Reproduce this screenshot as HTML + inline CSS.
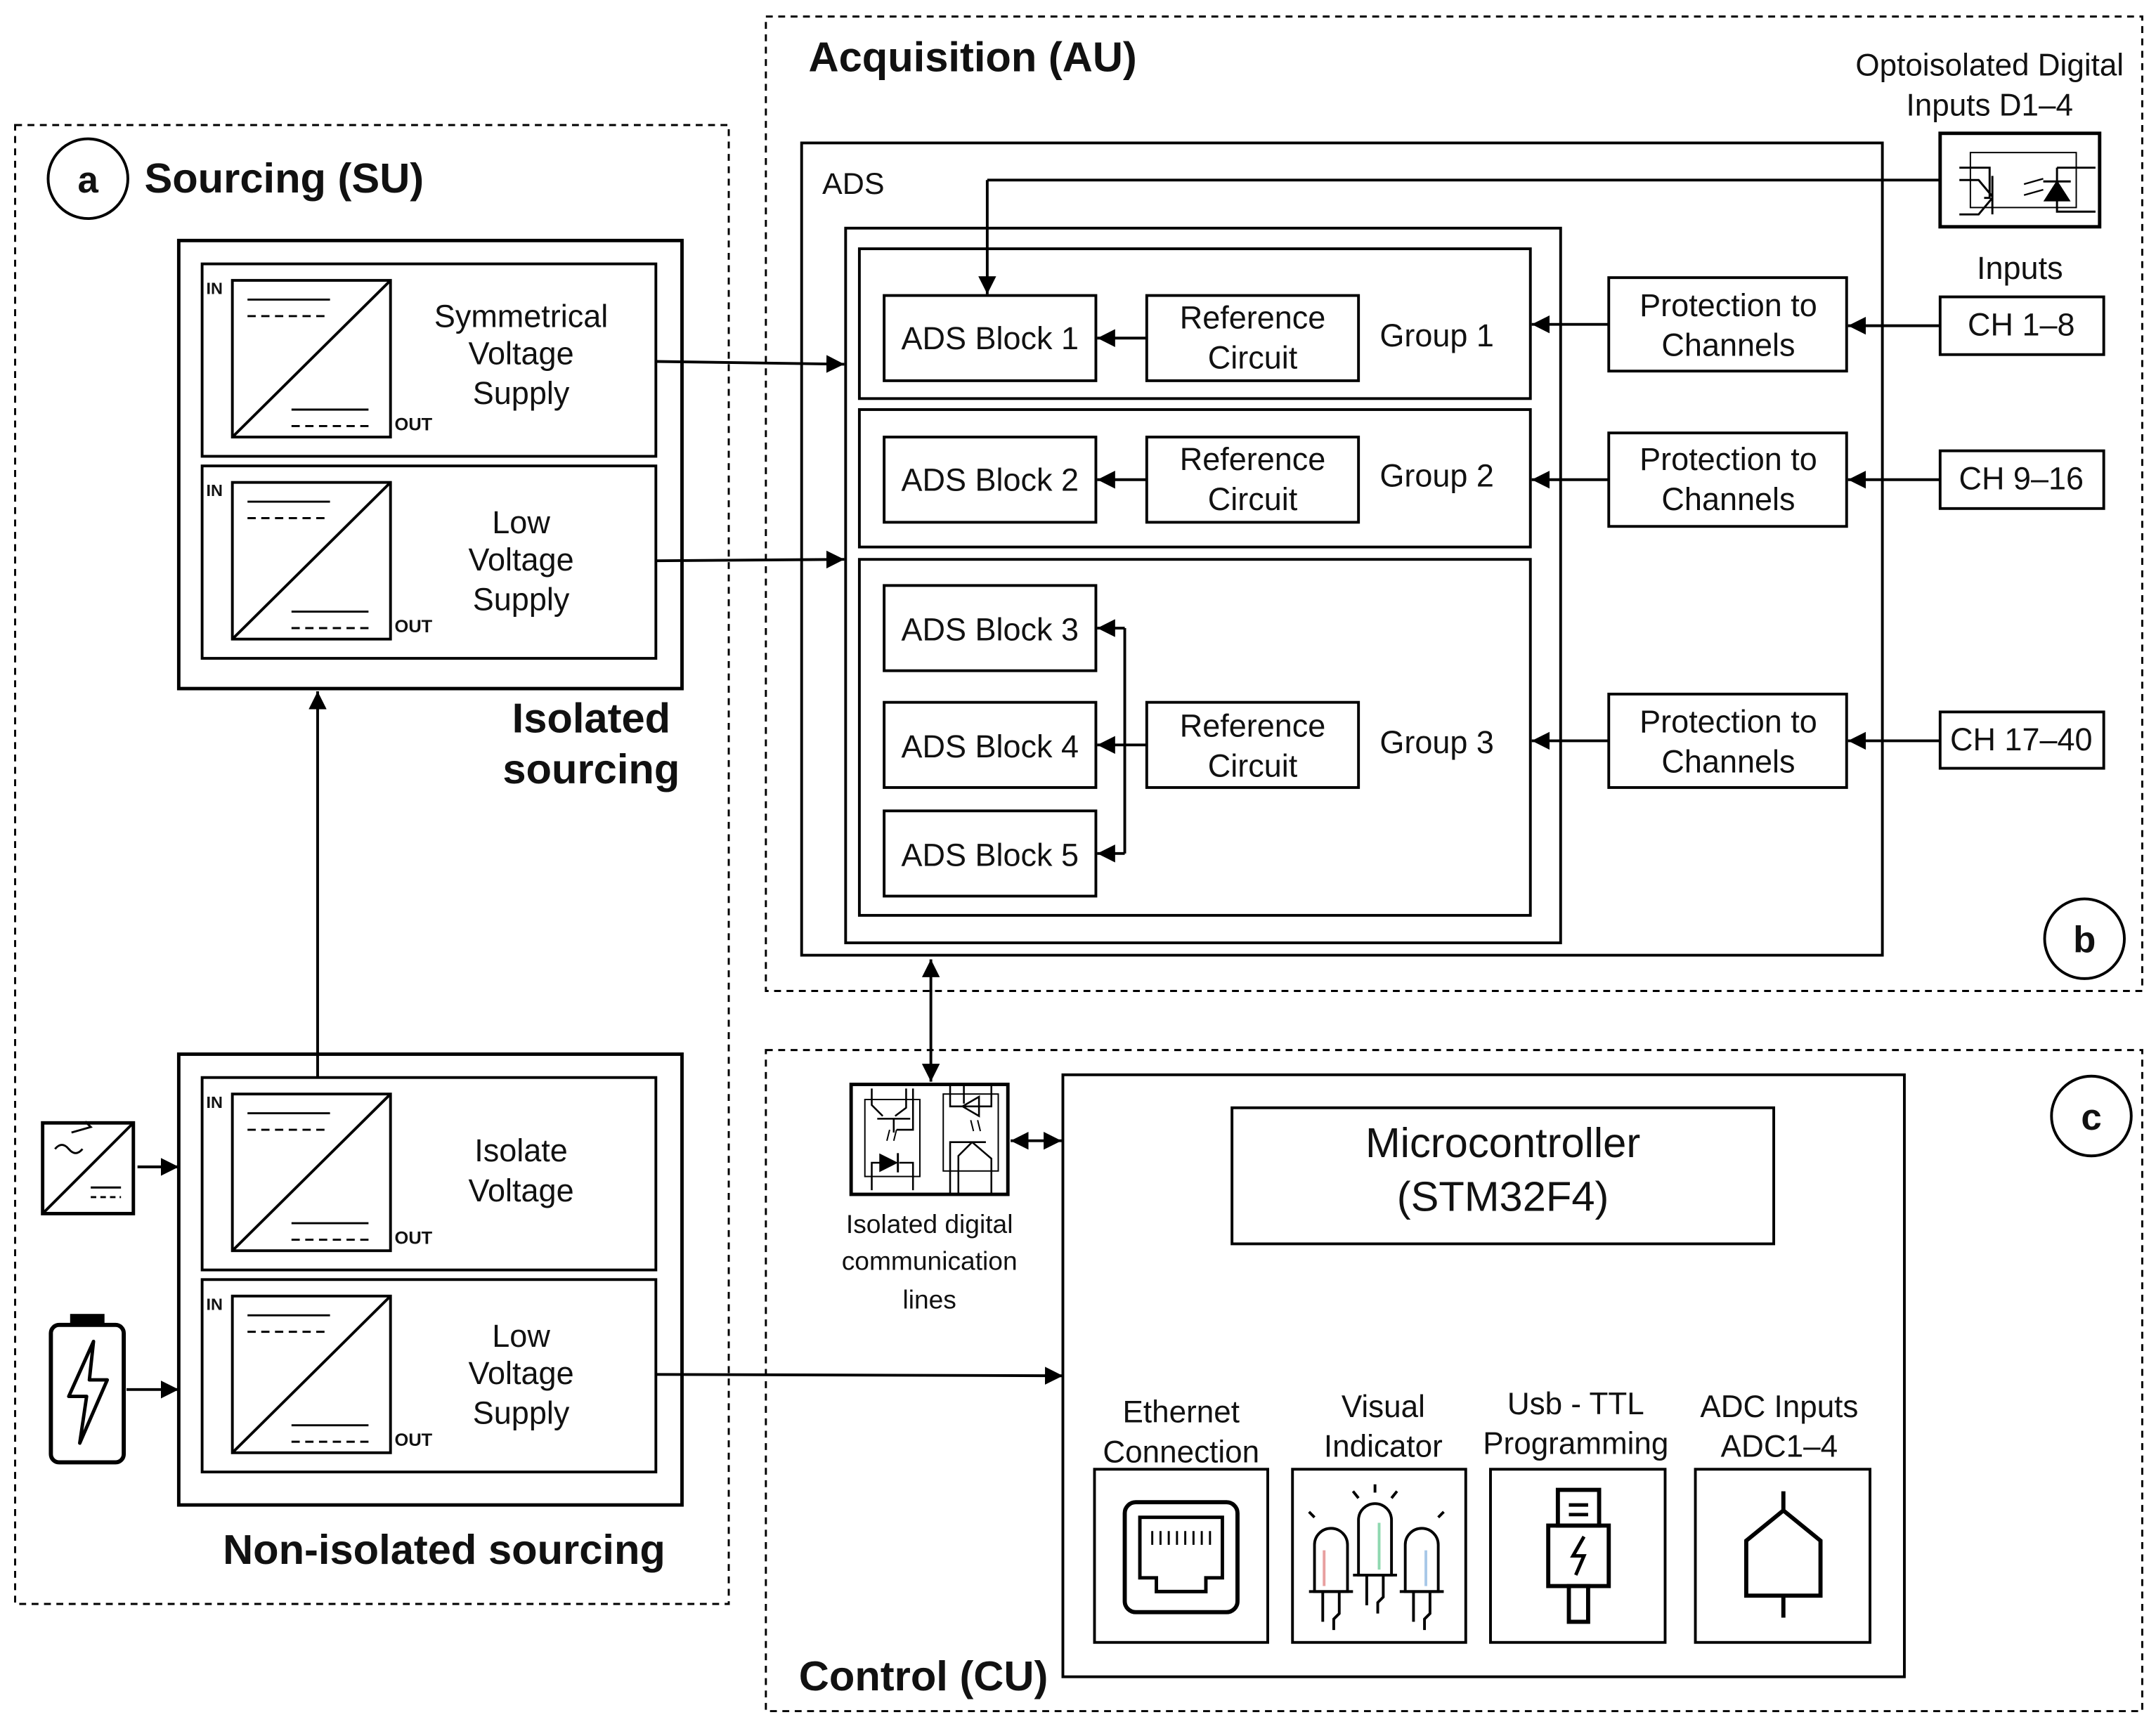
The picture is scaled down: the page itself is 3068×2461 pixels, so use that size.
<!DOCTYPE html>
<html><head><meta charset="utf-8"><style>
html,body{margin:0;padding:0;background:#fff;}
svg{display:block;}
text{font-family:"Liberation Sans",sans-serif;fill:#111;}
.b{font-weight:bold;}
</style></head><body>
<svg width="3068" height="2461" viewBox="0 0 1568 1258" preserveAspectRatio="none" xmlns="http://www.w3.org/2000/svg">
<defs>
<marker id="ar2" viewBox="0 0 10 10" refX="10" refY="5" markerWidth="13" markerHeight="13" orient="auto-start-reverse" markerUnits="userSpaceOnUse"><path d="M0,0 L10,5 L0,10 Z" fill="#000"/></marker>
<g id="conv">
<rect x="0" y="0" width="330" height="140" fill="none" stroke="#000" stroke-width="2"/>
<rect x="22" y="12" width="115" height="114" fill="none" stroke="#000" stroke-width="2"/>
<line x1="22" y1="126" x2="137" y2="12" stroke="#000" stroke-width="2"/>
<line x1="33" y1="26" x2="93" y2="26" stroke="#000" stroke-width="1.5"/>
<line x1="33" y1="38" x2="93" y2="38" stroke="#000" stroke-width="1.5" stroke-dasharray="6,4"/>
<line x1="65" y1="106" x2="121" y2="106" stroke="#000" stroke-width="1.5"/>
<line x1="65" y1="118" x2="121" y2="118" stroke="#000" stroke-width="1.5" stroke-dasharray="6,4"/>
<text x="3" y="22" font-size="12" class="b">IN</text>
<text x="140" y="121" font-size="13" class="b">OUT</text>
</g>
</defs>
<g fill="none" stroke="#000" stroke-width="1.5" stroke-dasharray="5,4">
<rect x="11" y="91" width="519" height="1076"/>
<rect x="557" y="12" width="1001" height="709"/>
<rect x="557" y="764" width="1001" height="481"/>
</g>
<!-- Sourcing -->
<circle cx="64" cy="130" r="29" fill="none" stroke="#000" stroke-width="2"/>
<text x="64" y="140" font-size="27" class="b" text-anchor="middle">a</text>
<text x="105" y="140" font-size="30.5" class="b">Sourcing (SU)</text>
<rect x="130" y="175" width="366" height="326" fill="none" stroke="#000" stroke-width="2.5"/>
<use href="#conv" x="147" y="192"/>
<use href="#conv" x="147" y="339"/>
<g font-size="23" text-anchor="middle">
<text x="379" y="238">Symmetrical</text><text x="379" y="265">Voltage</text><text x="379" y="294">Supply</text>
<text x="379" y="388">Low</text><text x="379" y="415">Voltage</text><text x="379" y="444">Supply</text>
<text x="379" y="845">Isolate</text><text x="379" y="874">Voltage</text>
<text x="379" y="980">Low</text><text x="379" y="1007">Voltage</text><text x="379" y="1036">Supply</text>
</g>
<text x="430" y="533" font-size="30.5" class="b" text-anchor="middle">Isolated</text>
<text x="430" y="570" font-size="30.5" class="b" text-anchor="middle">sourcing</text>
<rect x="130" y="767" width="366" height="328" fill="none" stroke="#000" stroke-width="2.5"/>
<use href="#conv" x="147" y="784"/>
<use href="#conv" x="147" y="931"/>
<text x="323" y="1138" font-size="30.5" class="b" text-anchor="middle">Non-isolated sourcing</text>
<g stroke="#000" stroke-width="2" fill="none">
<line x1="231" y1="784" x2="231" y2="503" marker-end="url(#ar2)"/>
<line x1="477" y1="263" x2="614" y2="265" marker-end="url(#ar2)"/>
<line x1="477" y1="408" x2="614" y2="407" marker-end="url(#ar2)"/>
<line x1="477" y1="1000" x2="773" y2="1001" marker-end="url(#ar2)"/>
<line x1="100" y1="849" x2="130" y2="849" marker-end="url(#ar2)"/>
<line x1="92" y1="1011" x2="130" y2="1011" marker-end="url(#ar2)"/>
<rect x="31" y="817" width="66" height="66" stroke-width="2.5"/>
<line x1="31" y1="883" x2="97" y2="817" stroke-width="2"/>
<path d="M40,836 q5,-6 10,0 t10,0" stroke-width="1.5"/>
<path d="M52,824 l14,-4 -4,-4" stroke-width="1.5"/>
<line x1="66" y1="864" x2="88" y2="864" stroke-width="1.5"/>
<line x1="66" y1="871" x2="88" y2="871" stroke-width="1.5" stroke-dasharray="4,3"/>
<rect x="37" y="964" width="53" height="100" rx="6" stroke-width="3"/>
<rect x="52" y="957" width="23" height="7" fill="#000"/>
<path d="M68,976 L50,1016 L63,1016 L58,1050 L78,1004 L65,1004 Z" stroke-width="2.5" stroke-linejoin="round"/>
</g>
<!-- Acquisition -->
<text x="588" y="52" font-size="30.5" class="b">Acquisition (AU)</text>
<text x="1447" y="55" font-size="22.5" text-anchor="middle">Optoisolated Digital</text>
<text x="1447" y="84" font-size="22.5" text-anchor="middle">Inputs D1–4</text>
<g fill="none" stroke="#000" stroke-width="2">
<rect x="583" y="104" width="786" height="591"/>
<rect x="615" y="166" width="520" height="520"/>
<rect x="625" y="181" width="488" height="109"/>
<rect x="625" y="298" width="488" height="100"/>
<rect x="625" y="407" width="488" height="259"/>
<rect x="643" y="215" width="154" height="62"/>
<rect x="834" y="215" width="154" height="62"/>
<rect x="643" y="318" width="154" height="62"/>
<rect x="834" y="318" width="154" height="62"/>
<rect x="643" y="426" width="154" height="62"/>
<rect x="643" y="511" width="154" height="62"/>
<rect x="643" y="590" width="154" height="62"/>
<rect x="834" y="511" width="154" height="62"/>
<rect x="1170" y="202" width="173" height="68"/>
<rect x="1170" y="315" width="173" height="68"/>
<rect x="1170" y="505" width="173" height="68"/>
<rect x="1411" y="216" width="119" height="42"/>
<rect x="1411" y="328" width="119" height="42"/>
<rect x="1411" y="518" width="119" height="41"/>
<rect x="1411" y="97" width="116" height="68" stroke-width="2.5"/>
<rect x="1433" y="111" width="77" height="40" stroke-width="1"/>
<path d="M1425,122 h22 v22 h-4 M1425,131 h14 l10,12 M1425,156 h14 l10,-12 M1449,128 v28" stroke-width="1.5"/>
<path d="M1472,134 l14,-4 M1472,142 l14,-4" stroke-width="1.2"/>
<path d="M1496,122 h28 M1496,122 v32 h28 M1486,132 h20" stroke-width="1.5"/>
<path d="M1487,146 L1505,146 L1496,132 Z" fill="#000" stroke-width="1"/>
<line x1="1411" y1="131" x2="718" y2="131"/>
<line x1="718" y1="131" x2="718" y2="214" marker-end="url(#ar2)"/>
<line x1="834" y1="246" x2="798" y2="246" marker-end="url(#ar2)"/>
<line x1="834" y1="349" x2="798" y2="349" marker-end="url(#ar2)"/>
<line x1="834" y1="542" x2="798" y2="542" marker-end="url(#ar2)"/>
<line x1="818" y1="457" x2="818" y2="621"/>
<line x1="818" y1="457" x2="798" y2="457" marker-end="url(#ar2)"/>
<line x1="818" y1="621" x2="798" y2="621" marker-end="url(#ar2)"/>
<line x1="1170" y1="236" x2="1114" y2="236" marker-end="url(#ar2)"/>
<line x1="1170" y1="349" x2="1114" y2="349" marker-end="url(#ar2)"/>
<line x1="1170" y1="539" x2="1114" y2="539" marker-end="url(#ar2)"/>
<line x1="1411" y1="237" x2="1344" y2="237" marker-end="url(#ar2)"/>
<line x1="1411" y1="349" x2="1344" y2="349" marker-end="url(#ar2)"/>
<line x1="1411" y1="539" x2="1344" y2="539" marker-end="url(#ar2)"/>
<line x1="677" y1="698" x2="677" y2="787" marker-end="url(#ar2)" marker-start="url(#ar2)"/>
<circle cx="1516" cy="683" r="29"/>
<circle cx="1521" cy="812" r="29"/>
</g>
<text x="598" y="141" font-size="22">ADS</text>
<g font-size="23" text-anchor="middle">
<text x="720" y="254">ADS Block 1</text>
<text x="720" y="357">ADS Block 2</text>
<text x="720" y="466">ADS Block 3</text>
<text x="720" y="551">ADS Block 4</text>
<text x="720" y="630">ADS Block 5</text>
<text x="911" y="239">Reference</text><text x="911" y="268">Circuit</text>
<text x="911" y="342">Reference</text><text x="911" y="371">Circuit</text>
<text x="911" y="536">Reference</text><text x="911" y="565">Circuit</text>
<text x="1045" y="252">Group 1</text>
<text x="1045" y="354">Group 2</text>
<text x="1045" y="548">Group 3</text>
<text x="1257" y="230">Protection to</text><text x="1257" y="259">Channels</text>
<text x="1257" y="342">Protection to</text><text x="1257" y="371">Channels</text>
<text x="1257" y="533">Protection to</text><text x="1257" y="562">Channels</text>
<text x="1470" y="244">CH 1–8</text>
<text x="1470" y="356">CH 9–16</text>
<text x="1470" y="546">CH 17–40</text>
<text x="1469" y="203">Inputs</text>
</g>
<text x="1516" y="693" font-size="27" class="b" text-anchor="middle">b</text>
<text x="1521" y="822" font-size="27" class="b" text-anchor="middle">c</text>
<!-- Control -->
<text x="581" y="1230" font-size="30.5" class="b">Control (CU)</text>
<g fill="none" stroke="#000" stroke-width="2">
<rect x="773" y="782" width="612" height="438"/>
<rect x="896" y="806" width="394" height="99"/>
<rect x="619" y="789" width="114" height="80" stroke-width="2.5"/>
<rect x="629" y="800" width="40" height="56" stroke-width="1"/>
<rect x="686" y="796" width="40" height="56" stroke-width="1"/>
<path d="M634,792 v12 l8,8 M664,792 v30 h-12 M659,792 v14 l-8,6 M638,814 h24 M650,814 v10" stroke-width="1.3"/>
<path d="M634,866 v-20 h10 M664,866 v-20 h-10" stroke-width="1.3"/>
<path d="M640,840 L652,846 L640,852 Z" fill="#000" stroke-width="1"/>
<line x1="653" y1="839" x2="653" y2="853" stroke-width="1.5"/>
<path d="M645,830 l2,-8 M650,830 l2,-8" stroke-width="1"/>
<path d="M691,789 v16 h30 v-16 M701,803 v-14 M712,812 L700,805 L712,798 Z" fill="none" stroke-width="1.3"/>
<path d="M706,815 l2,8 M711,815 l2,8" stroke-width="1"/>
<path d="M691,869 v-38 h20 M697,831 h20 M707,831 l-10,10 v28 M707,831 l14,12 v26" stroke-width="1.3"/>
<line x1="735" y1="830" x2="772" y2="830" marker-end="url(#ar2)" marker-start="url(#ar2)"/>
<rect x="796" y="1069" width="126" height="126"/>
<rect x="940" y="1069" width="126" height="126"/>
<rect x="1084" y="1069" width="127" height="126"/>
<rect x="1233" y="1069" width="127" height="126"/>
<rect x="818" y="1093" width="82" height="80" rx="8" stroke-width="3"/>
<path d="M829,1104 h60 v44 h-12 v10 h-36 v-10 h-12 Z" stroke-width="2.5"/>
<path d="M838,1114 v10 M844,1114 v10 M850,1114 v10 M856,1114 v10 M862,1114 v10 M868,1114 v10 M874,1114 v10 M880,1114 v10" stroke-width="1.5"/>
<g stroke-width="2">
<path d="M956,1158 v-34 a12,12 0 0 1 24,0 v34 Z"/><path d="M952,1158 h32 M962,1158 v22 M974,1158 v16 l-4,4 v8"/>
<path d="M988,1146 v-40 a12,12 0 0 1 24,0 v40 Z"/><path d="M984,1146 h32 M994,1146 v22 M1006,1146 v16 l-4,4 v8"/>
<path d="M1022,1158 v-34 a12,12 0 0 1 24,0 v34 Z"/><path d="M1018,1158 h32 M1028,1158 v22 M1040,1158 v16 l-4,4 v8"/>
<path d="M1000,1086 v-6 M988,1090 l-4,-5 M1012,1090 l4,-5 M956,1104 l-4,-4 M1046,1104 l4,-4"/>
</g>
<path d="M963,1128 v26" stroke="#e8a0a0" stroke-width="2"/>
<path d="M1003,1108 v34" stroke="#8fd8b0" stroke-width="2"/>
<path d="M1037,1128 v26" stroke="#a8c8e8" stroke-width="2"/>
<g stroke-width="3">
<rect x="1133" y="1084" width="30" height="26"/>
<path d="M1141,1095 h14 M1141,1102 h14" stroke-width="2.5"/>
<rect x="1126" y="1110" width="44" height="44"/>
<rect x="1141" y="1154" width="14" height="26"/>
<path d="M1152,1118 l-8,14 h8 l-6,14" stroke-width="2.5"/>
</g>
<path d="M1297,1085 v14 M1297,1099 l-27,22 v40 h54 v-40 Z M1297,1161 v16" stroke-width="3"/>
</g>
<text x="1093" y="842" font-size="30.5" text-anchor="middle">Microcontroller</text>
<text x="1093" y="881" font-size="30.5" text-anchor="middle">(STM32F4)</text>
<g font-size="19" text-anchor="middle">
<text x="676" y="897">Isolated digital</text>
<text x="676" y="924">communication</text>
<text x="676" y="952">lines</text>
</g>
<g font-size="22.5" text-anchor="middle">
<text x="859" y="1035">Ethernet</text><text x="859" y="1064">Connection</text>
<text x="1006" y="1031">Visual</text><text x="1006" y="1060">Indicator</text>
<text x="1146" y="1029">Usb - TTL</text><text x="1146" y="1058">Programming</text>
<text x="1294" y="1031">ADC Inputs</text><text x="1294" y="1060">ADC1–4</text>
</g>
</svg>
</body></html>
